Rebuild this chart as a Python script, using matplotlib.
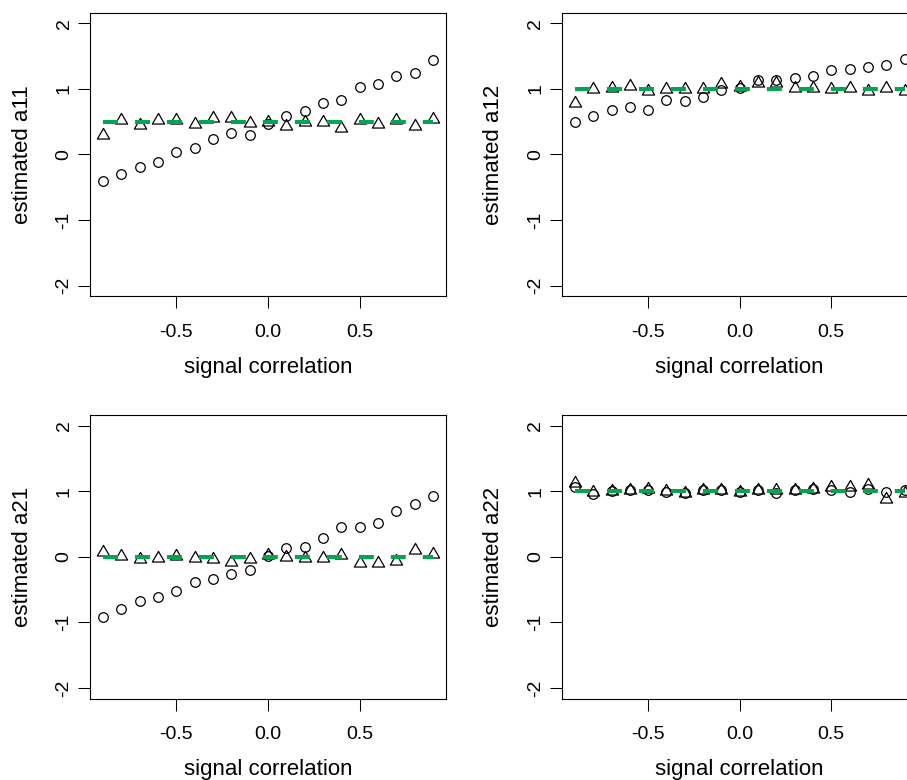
import matplotlib
matplotlib.use("Agg")
import matplotlib.pyplot as plt
from matplotlib.path import Path

plt.rcParams['font.family'] = ['Liberation Sans', 'DejaVu Sans']

signal_corr = [-0.9, -0.8, -0.7, -0.6, -0.5, -0.4, -0.3, -0.2, -0.1, 0.0,
               0.1, 0.2, 0.3, 0.4, 0.5, 0.6, 0.7, 0.8, 0.9]

# naive estimates (circles) and corrected estimates (triangles)
a11_naive = [-0.40, -0.30, -0.19, -0.12, 0.03, 0.10, 0.24, 0.33, 0.30, 0.47,
             0.58, 0.66, 0.79, 0.83, 1.03, 1.07, 1.20, 1.24, 1.44]
a11_corr = [0.30, 0.53, 0.45, 0.52, 0.53, 0.46, 0.56, 0.55, 0.48, 0.49,
            0.44, 0.49, 0.49, 0.41, 0.53, 0.47, 0.52, 0.43, 0.54]

a12_naive = [0.50, 0.58, 0.68, 0.73, 0.67, 0.83, 0.82, 0.87, 0.98, 1.01,
             1.13, 1.14, 1.16, 1.20, 1.28, 1.30, 1.33, 1.37, 1.46]
a12_corr = [0.79, 1.00, 1.01, 1.05, 0.96, 1.00, 1.00, 1.00, 1.07, 1.03,
            1.09, 1.09, 1.02, 1.02, 1.00, 1.02, 0.97, 1.02, 0.97]

a21_naive = [-0.92, -0.80, -0.68, -0.62, -0.52, -0.38, -0.34, -0.27, -0.20, 0.01,
             0.14, 0.15, 0.29, 0.45, 0.45, 0.52, 0.70, 0.80, 0.93]
a21_corr = [0.07, 0.01, -0.04, -0.02, 0.01, -0.02, -0.04, -0.08, -0.04, 0.02,
            -0.01, -0.02, -0.02, 0.02, -0.09, -0.10, -0.07, 0.11, 0.04]

a22_naive = [1.07, 0.96, 1.00, 1.02, 1.02, 0.98, 0.97, 1.01, 1.02, 0.98,
             1.02, 0.97, 1.02, 1.04, 1.01, 0.98, 1.03, 0.98, 1.02]
a22_corr = [1.12, 0.98, 1.00, 1.01, 1.03, 1.00, 0.97, 1.01, 1.01, 0.99,
            1.01, 1.01, 1.01, 1.04, 1.07, 1.07, 1.10, 0.88, 0.97]

true_vals = {"a11": 0.5, "a12": 1.0, "a21": 0.0, "a22": 1.0}

x_ticks = [-0.5, 0.0, 0.5]
x_ticklabels = ["-0.5", "0.0", "0.5"]
y_ticks = [-2, -1, 0, 1, 2]
y_ticklabels = ["-2", "-1", "0", "1", "2"]

# closed equilateral triangle, centred on its centroid (like R's pch = 2)
TRIANGLE = Path([(0, 1), (-0.866, -0.5), (0.866, -0.5), (0, 0)],
                [Path.MOVETO, Path.LINETO, Path.LINETO, Path.CLOSEPOLY])
GREEN = "#00a650"

W, H = 907, 780
fig = plt.figure(figsize=(W / 100, H / 100), dpi=100)


def make_axes(left_px, top_px):
    w_px, h_px = 356, 283.5
    return fig.add_axes([left_px / W, 1 - (top_px + h_px) / H, w_px / W, h_px / H])


def draw_panel(ax, name, naive, corr):
    ax.plot(signal_corr, naive, linestyle="none", marker="o", ms=6.9,
            mfc="none", mec="black", mew=0.9)
    ax.plot(signal_corr, corr, linestyle="none", marker=TRIANGLE, ms=10.2,
            mfc="none", mec="black", mew=0.9)
    tv = true_vals[name]
    ax.plot([signal_corr[0], signal_corr[-1]], [tv, tv], color=GREEN, lw=2.9,
            dashes=(3.72, 4.22), dash_capstyle="butt")

    ax.set_xlim(-0.972, 0.972)
    ax.set_ylim(-2.16, 2.16)
    ax.set_xticks(x_ticks)
    ax.set_xticklabels(x_ticklabels)
    ax.set_yticks(y_ticks)
    ax.set_yticklabels(y_ticklabels, rotation=90, va="center")
    ax.tick_params(direction="out", length=8.4, width=0.75, labelsize=14,
                   colors="black")
    ax.tick_params(axis="x", pad=11.7)
    ax.tick_params(axis="y", pad=4.2)
    for sp in ax.spines.values():
        sp.set_linewidth(0.8)
        sp.set_color("black")

    ax.set_xlabel("signal correlation", fontsize=16)
    ax.set_ylabel("estimated " + name, fontsize=16)
    ax.xaxis.set_label_coords(0.5, -0.214)
    ax.yaxis.set_label_coords(-0.161, 0.5)


ax11 = make_axes(90, 12.7)
ax12 = make_axes(561.7, 12.7)
ax21 = make_axes(90, 415)
ax22 = make_axes(561.7, 415)

draw_panel(ax11, "a11", a11_naive, a11_corr)
draw_panel(ax12, "a12", a12_naive, a12_corr)
draw_panel(ax21, "a21", a21_naive, a21_corr)
draw_panel(ax22, "a22", a22_naive, a22_corr)

fig.savefig("out.png", dpi=100)
